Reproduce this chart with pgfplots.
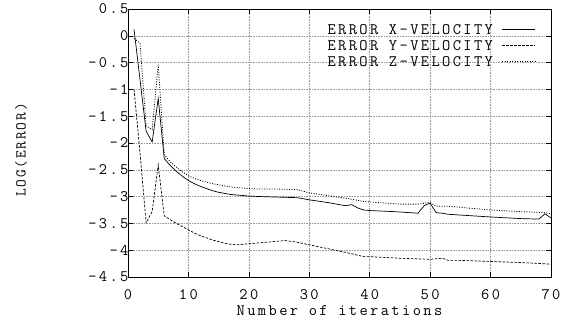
\documentclass[border=0pt]{standalone}
\usepackage{pgfplots}
\pgfplotsset{compat=1.18}
\usepackage{fontspec}
\setmainfont{Latin Modern Mono}[LetterSpace=15]
\newfontfamily\courn{Latin Modern Mono}[LetterSpace=12]
\begin{document}
\begin{tikzpicture}
\useasboundingbox (-128pt,-45pt) rectangle (434pt,277pt);
\begin{axis}[
  scale only axis, width=423pt, height=268pt,
  xmin=0, xmax=70, ymin=-4.5, ymax=0.5,
  xtick={0,10,20,30,40,50,60,70},
  ytick={-4.5,-4,-3.5,-3,-2.5,-2,-1.5,-1,-0.5,0,0.5},
  xticklabels={0,10,20,30,40,50,60,70},
  yticklabels={-4.5,-4,-3.5,-3,-2.5,-2,-1.5,-1,-0.5,0,0.5},
  tick align=inside, major tick length=5pt,
  tick style={black, line width=0.6pt},
  grid=major, major grid style={dash pattern=on 0.6pt off 1pt, gray!80, line width=0.6pt},
  axis line style={line width=0.8pt},
  ticklabel style={font=\fontsize{16}{18}\selectfont},
  yticklabel style={xshift=4pt},
  xticklabel style={yshift=-9pt},
  xlabel={Number of iterations},
  ylabel={LOG(ERROR)},
  xlabel style={font=\fontsize{16}{18}\selectfont, at={(axis description cs:0.5,-0.125)}, anchor=center},
  ylabel style={font=\courn\fontsize{15}{17}\selectfont, at={(axis description cs:-0.253,0.474)}, anchor=center},
  legend plot pos=right,
  legend image code/.code={\draw[#1] (0pt,0pt) -- (33pt,0pt);},
  legend style={draw=none, fill=none, inner sep=0pt, at={(rel axis cs:1,1)}, anchor=north east,
    xshift=-15pt, yshift=-15pt, row sep=6pt, column sep=9pt,
    nodes={inner sep=0pt, text height=10pt, text depth=0pt},
    cells={anchor=east}, font=\fontsize{16}{18}\selectfont},
]
\addplot[black, line width=0.7pt] coordinates {
(1,0.12) (2,-0.83) (3,-1.78) (4,-1.98) (5,-1.17) (6,-2.29) (7,-2.42) (8,-2.53) (9,-2.62) (10,-2.70)
(11,-2.76) (12,-2.81) (13,-2.85) (14,-2.89) (15,-2.92) (16,-2.94) (17,-2.96) (18,-2.97) (19,-2.98) (20,-2.99)
(22,-3.00) (25,-3.01) (28,-3.02) (30,-3.06) (33,-3.11) (36,-3.17) (37,-3.15) (38,-3.21) (39,-3.25) (40,-3.26)
(44,-3.28) (48,-3.31) (49,-3.17) (50,-3.12) (51,-3.30) (52,-3.31) (53,-3.33) (60,-3.38) (65,-3.41) (68,-3.42)
(69,-3.32) (70,-3.40)
};
\addlegendentry{ERROR X-VELOCITY}
\addplot[black, line width=0.7pt, dash pattern=on 2.5pt off 1.5pt] coordinates {
(1,-1.00) (2,-2.20) (3,-3.49) (4,-3.28) (5,-2.41) (6,-3.36) (7,-3.43) (8,-3.50) (9,-3.56) (10,-3.62)
(11,-3.68) (12,-3.73) (13,-3.77) (14,-3.81) (15,-3.84) (16,-3.87) (17,-3.89) (18,-3.90) (19,-3.89) (20,-3.88)
(22,-3.86) (24,-3.84) (26,-3.82) (28,-3.85) (30,-3.90) (33,-3.97) (36,-4.04) (39,-4.12) (40,-4.12)
(45,-4.15) (50,-4.17) (52,-4.15) (53,-4.19) (55,-4.19) (60,-4.21) (65,-4.23) (70,-4.26)
};
\addlegendentry{ERROR Y-VELOCITY}
\addplot[black, line width=0.8pt, dash pattern=on 1pt off 1.5pt] coordinates {
(1,-0.05) (2,-0.14) (3,-1.68) (4,-1.75) (5,-0.54) (6,-2.22) (7,-2.35) (8,-2.45) (9,-2.54) (10,-2.61)
(11,-2.66) (12,-2.70) (13,-2.73) (14,-2.76) (15,-2.78) (16,-2.80) (17,-2.82) (18,-2.83) (19,-2.84) (20,-2.85)
(22,-2.86) (25,-2.86) (28,-2.87) (30,-2.93) (33,-2.98) (36,-3.03) (39,-3.09) (40,-3.10)
(45,-3.14) (48,-3.14) (50,-3.11) (51,-3.18) (53,-3.18) (60,-3.25) (65,-3.28) (69,-3.30) (70,-3.32)
};
\addlegendentry{ERROR Z-VELOCITY}
\end{axis}
\end{tikzpicture}
\end{document}
